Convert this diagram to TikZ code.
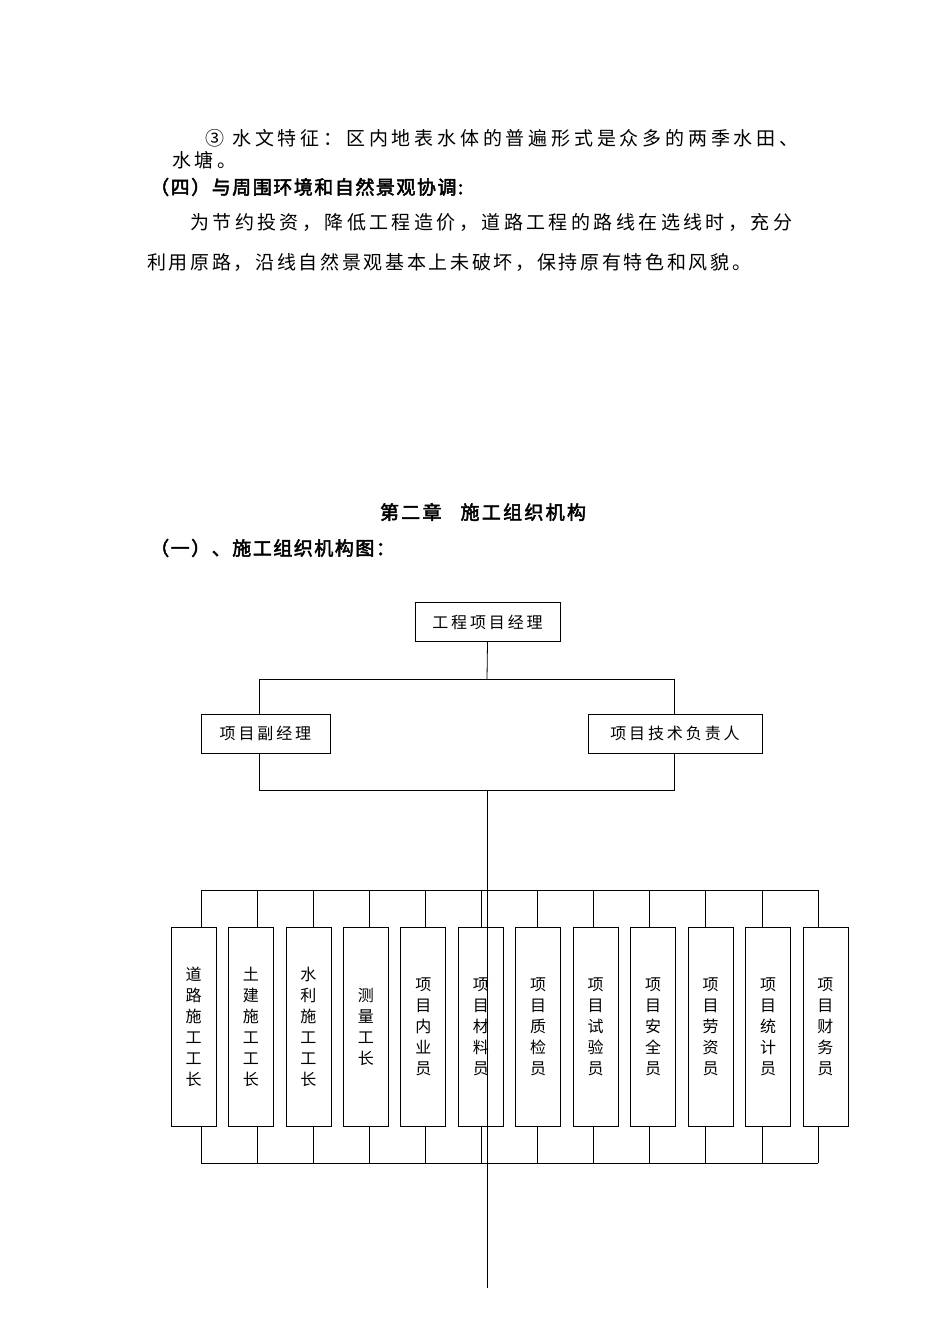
\documentclass[tikz,border=0pt]{standalone}
\usepackage{fontspec}
\setmainfont{Noto Sans CJK SC}[AutoFakeBold=2.5]
\usetikzlibrary{positioning}
\newcommand{\spaced}[1]{\addfontfeature{LetterSpace=#1}}
\tikzset{
  txt/.style={anchor=west, inner sep=0pt, font=\fontsize{19}{22}\selectfont\spaced{20}},
  head/.style={anchor=west, inner sep=0pt, font=\fontsize{19}{22}\selectfont\bfseries\spaced{8}},
  box/.style={draw, thick, minimum height=39, inner sep=0pt, font=\fontsize{16}{18}\selectfont\spaced{18}},
  vbox/.style={draw, thick, minimum width=45, minimum height=199, inner sep=0pt, align=center, font=\fontsize{16}{21}\selectfont},
  wire/.style={thick}
}
\begin{document}
\begin{tikzpicture}[x=1pt,y=-1pt]
\useasboundingbox (0,0) rectangle (950,1344);

% text above
\node[txt] (l1) at (205,138) {③ 水文特征：区内地表水体的普遍形式是众多的两季水田、};
\node[txt] (l2) at (172,160) {水塘。};
\node[head] (h4) at (150,187) {（四）与周围环境和自然景观协调:};
\node[txt, font=\fontsize{19}{22}\selectfont\spaced{18}] (p1) at (190,222) {为节约投资，降低工程造价，道路工程的路线在选线时，充分};
\node[txt, font=\fontsize{19}{22}\selectfont\spaced{14}] (p2) at (147,262) {利用原路，沿线自然景观基本上未破坏，保持原有特色和风貌。};
\node[head, anchor=center, font=\fontsize{19}{22}\selectfont\bfseries\spaced{12}] (ch2) at (483,512) {第二章\quad 施工组织机构};
\node[head] (s1) at (150,548) {（一）、施工组织机构图：};

% top of the chart
\node[box, minimum width=145] (pm) at (487.5,622) {工程项目经理};
\node[box, minimum width=129] (dpm) at (265.5,733.5) {项目副经理};
\node[box, minimum width=174] (tech) at (675,733.5) {项目技术负责人};

\coordinate (J1) at (487,679);
\coordinate (J2) at (487,790);
\coordinate (J3) at (487,1288);
\draw[wire] (pm.south) -- (J1);
\draw[wire] (259,679) -- (674,679);
\draw[wire] (259,679) -- (259,714);
\draw[wire] (674,679) -- (674,714);
\draw[wire] (259,753) -- (259,790) -- (674,790) -- (674,753);
\draw[wire] (J2) -- (J3);

% the twelve posts
\draw[wire] (201,890) -- (818,890);
\draw[wire] (201,1163) -- (818,1163);
\foreach \t [count=\i] in {道\\路\\施\\工\\工\\长, 土\\建\\施\\工\\工\\长, 水\\利\\施\\工\\工\\长, 测\\量\\工\\长,
  项\\目\\内\\业\\员, 项\\目\\材\\料\\员, 项\\目\\质\\检\\员, 项\\目\\试\\验\\员,
  项\\目\\安\\全\\员, 项\\目\\劳\\资\\员, 项\\目\\统\\计\\员, 项\\目\\财\\务\\员}{
  \pgfmathsetmacro{\bx}{193.5+(\i-1)*57.45}
  \pgfmathsetmacro{\lx}{201+(\i-1)*56.09}
  \node[vbox] (post\i) at (\bx,1026.5) {\t};
  \draw[wire] (\lx,890) -- (\lx,927);
  \draw[wire] (\lx,1126) -- (\lx,1163);
}
\end{tikzpicture}
\end{document}
